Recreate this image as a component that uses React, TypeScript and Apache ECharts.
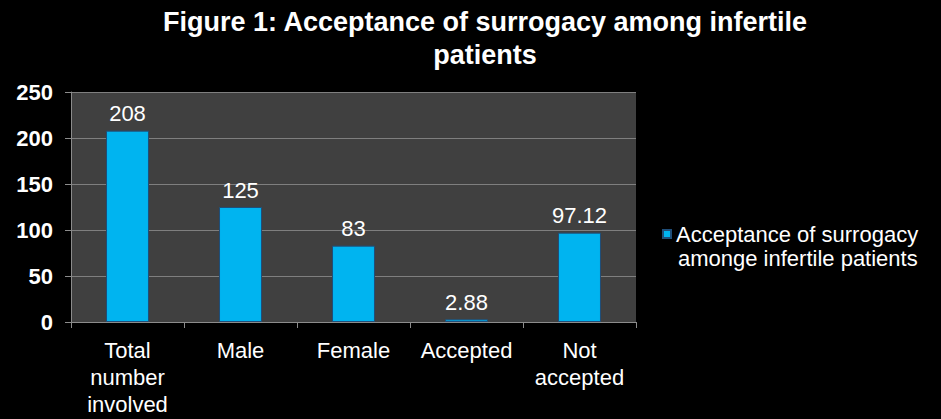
import React, { useEffect, useRef } from "react";
import * as echarts from "echarts";

const categories = ["Total\nnumber\ninvolved", "Male", "Female", "Accepted", "Not\naccepted"];
const values = [208, 125, 83, 2.88, 97.12];
const seriesName = "Acceptance of surrogacy among infertile patients";
const legendLine1 = "Acceptance of surrogacy";
const legendLine2 = "amonge infertile patients";
const titleText = "Figure 1: Acceptance of surrogacy among infertile\npatients";
const font = "'Liberation Sans', Arial, sans-serif";

export default function App() {
  const ref = useRef<HTMLDivElement>(null);
  useEffect(() => {
    if (!ref.current) return;
    const chart = echarts.init(ref.current, null, { renderer: "svg" });
    chart.setOption({
      animation: false,
      backgroundColor: "#000000",
      title: {
        text: titleText,
        left: 480,
        top: 0,
        textAlign: "center",
        textStyle: {
          color: "#ffffff",
          fontFamily: font,
          fontWeight: "bold",
          fontSize: 27,
          lineHeight: 33,
        },
      },
      legend: {
        orient: "vertical",
        left: 657,
        top: 218,
        icon: "rect",
        itemWidth: 8,
        itemHeight: 8,
        itemGap: 4,
        formatter: () => legendLine1,
        textStyle: {
          color: "#ffffff",
          fontFamily: font,
          fontSize: 22,
          lineHeight: 22,
        },
        data: [seriesName],
      },
      graphic: [
        {
          type: "text",
          left: 678,
          top: 247,
          style: {
            text: legendLine2,
            fill: "#ffffff",
            fontFamily: font,
            fontSize: 22,
            lineHeight: 22,
          },
        },
      ],
      grid: {
        left: 71,
        right: 305,
        top: 92,
        bottom: 97,
        show: true,
        backgroundColor: "#404040",
        borderWidth: 0,
      },
      xAxis: {
        type: "category",
        data: categories,
        axisLine: { lineStyle: { color: "#8c8c8c", width: 1 } },
        axisTick: { show: true, length: 6, lineStyle: { color: "#8c8c8c" } },
        axisLabel: {
          color: "#ffffff",
          fontFamily: font,
          fontSize: 22,
          lineHeight: 27,
          margin: 15,
          interval: 0,
        },
      },
      yAxis: {
        type: "value",
        min: 0,
        max: 250,
        interval: 50,
        axisLine: { show: true, lineStyle: { color: "#8c8c8c", width: 1 } },
        axisTick: { show: true, length: 6, lineStyle: { color: "#8c8c8c" } },
        splitLine: { show: true, lineStyle: { color: "#7f7f7f", width: 1 } },
        axisLabel: {
          color: "#ffffff",
          fontFamily: font,
          fontWeight: "bold",
          fontSize: 22,
          margin: 18,
        },
      },
      series: [
        {
          name: seriesName,
          type: "bar",
          data: values,
          barWidth: "38%",
          itemStyle: { color: "#00b4f0", borderColor: "#1f4e79", borderWidth: 1 },
          label: {
            show: true,
            position: "top",
            distance: 6,
            color: "#ffffff",
            fontFamily: font,
            fontSize: 22,
          },
        },
      ],
    });
    return () => chart.dispose();
  }, []);
  return <div ref={ref} style={{ width: 941, height: 419, position: "absolute", left: 0, top: 0 }} />;
}
